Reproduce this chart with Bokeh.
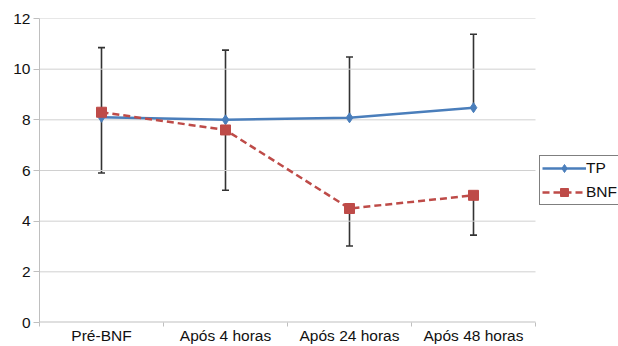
from bokeh.plotting import figure
from bokeh.models import (ColumnDataSource, FixedTicker, Legend, LegendItem,
                          Whisker, TeeHead)
from bokeh.embed import file_html
from bokeh.resources import INLINE

categories = ["Pré-BNF", "Após 4 horas", "Após 24 horas", "Após 48 horas"]
tp_values = [8.1, 8.0, 8.08, 8.48]
tp_upper = [10.85, 10.75, 10.48, 11.38]
bnf_values = [8.3, 7.6, 4.5, 5.02]
bnf_lower = [5.9, 5.22, 3.02, 3.45]
y_ticks = [0, 2, 4, 6, 8, 10, 12]

n = len(categories)
xpos = [i + 0.5 for i in range(n)]
boundaries = [i for i in range(n + 1)]

FONT = "Liberation Sans"
BLUE = "#4a7ebb"
RED = "#be4b48"
FS = "15.5px"
GRID = "#d0d0d0"

# layout (pixels)
W, H = 618, 346
LEFT, TOP, BOTTOM = 39, 18, 22
PLOT_W = 496           # width of the data area (categories)
FRAME_W = W - LEFT     # frame extends to the right edge to host the legend
x_end = n * FRAME_W / PLOT_W

p = figure(width=W, height=H, output_backend="svg", toolbar_location=None,
           x_range=(0, x_end), y_range=(y_ticks[0], y_ticks[-1]),
           min_border_left=LEFT, min_border_right=0, min_border_top=TOP,
           min_border_bottom=BOTTOM)
p.outline_line_color = None
p.background_fill_color = "white"
p.border_fill_color = "white"

# axes
p.xaxis.ticker = FixedTicker(ticks=xpos, minor_ticks=boundaries)
p.xaxis.major_label_overrides = {x: c for x, c in zip(xpos, categories)}
p.xaxis.major_tick_out = 0
p.xaxis.major_tick_in = 0
p.xaxis.minor_tick_out = 4
p.xaxis.minor_tick_in = 0
p.xaxis.minor_tick_line_color = "#bfbfbf"
p.xaxis.axis_line_color = None
p.xaxis.major_label_standoff = 0
p.xaxis.major_label_text_font = FONT
p.xaxis.major_label_text_font_size = FS
p.xaxis.major_label_text_color = "#111111"

p.yaxis.ticker = FixedTicker(ticks=y_ticks)
p.yaxis.minor_tick_line_color = None
p.yaxis.major_tick_out = 6
p.yaxis.major_tick_in = 0
p.yaxis.major_tick_line_color = "#bfbfbf"
p.yaxis.axis_line_color = "#bfbfbf"
p.yaxis.major_label_standoff = 3
p.yaxis.major_label_text_font = FONT
p.yaxis.major_label_text_font_size = FS
p.yaxis.major_label_text_color = "#111111"

p.xgrid.grid_line_color = None
p.ygrid.grid_line_color = None

# horizontal grid lines limited to the category area
gy = y_ticks[1:]
p.segment(x0=[0] * len(gy), x1=[n] * len(gy), y0=gy, y1=gy,
          line_color=GRID, line_width=1)
# x axis line
p.segment(x0=[0], x1=[n], y0=[y_ticks[0]], y1=[y_ticks[0]],
          line_color="#bfbfbf", line_width=2)

src = ColumnDataSource(dict(x=xpos, tp=tp_values, tp_up=tp_upper,
                            bnf=bnf_values, bnf_lo=bnf_lower))

EB = "#333333"
w1 = Whisker(source=src, base="x", lower="tp", upper="tp_up",
             line_color=EB, line_width=1.6, lower_head=None,
             upper_head=TeeHead(size=7, line_color=EB, line_width=1.6))
w2 = Whisker(source=src, base="x", lower="bnf_lo", upper="bnf",
             line_color=EB, line_width=1.6, upper_head=None,
             lower_head=TeeHead(size=7, line_color=EB, line_width=1.6))
p.add_layout(w1)
p.add_layout(w2)

tl = p.line("x", "tp", source=src, line_color=BLUE, line_width=2.5)
ts = p.scatter("x", "tp", source=src, marker="diamond", size=10,
               fill_color=BLUE, line_color=BLUE)
bl = p.line("x", "bnf", source=src, line_color=RED, line_width=2.5,
            line_dash="7 4")
bs = p.scatter("x", "bnf", source=src, marker="square", size=10,
               fill_color=RED, line_color=RED)

legend = Legend(items=[LegendItem(label="TP", renderers=[tl, ts]),
                       LegendItem(label="BNF", renderers=[bl, bs])],
                location=(PLOT_W + 4, 117), orientation="vertical",
                border_line_color="black", border_line_width=1,
                background_fill_color="white", background_fill_alpha=1,
                label_text_font=FONT, label_text_font_size="15.5px",
                label_text_color="#111111",
                glyph_width=44, glyph_height=20, label_height=20,
                label_standoff=0, padding=2, spacing=4, margin=0)
p.add_layout(legend, "center")

open("out.html", "w").write(file_html(p, INLINE))
